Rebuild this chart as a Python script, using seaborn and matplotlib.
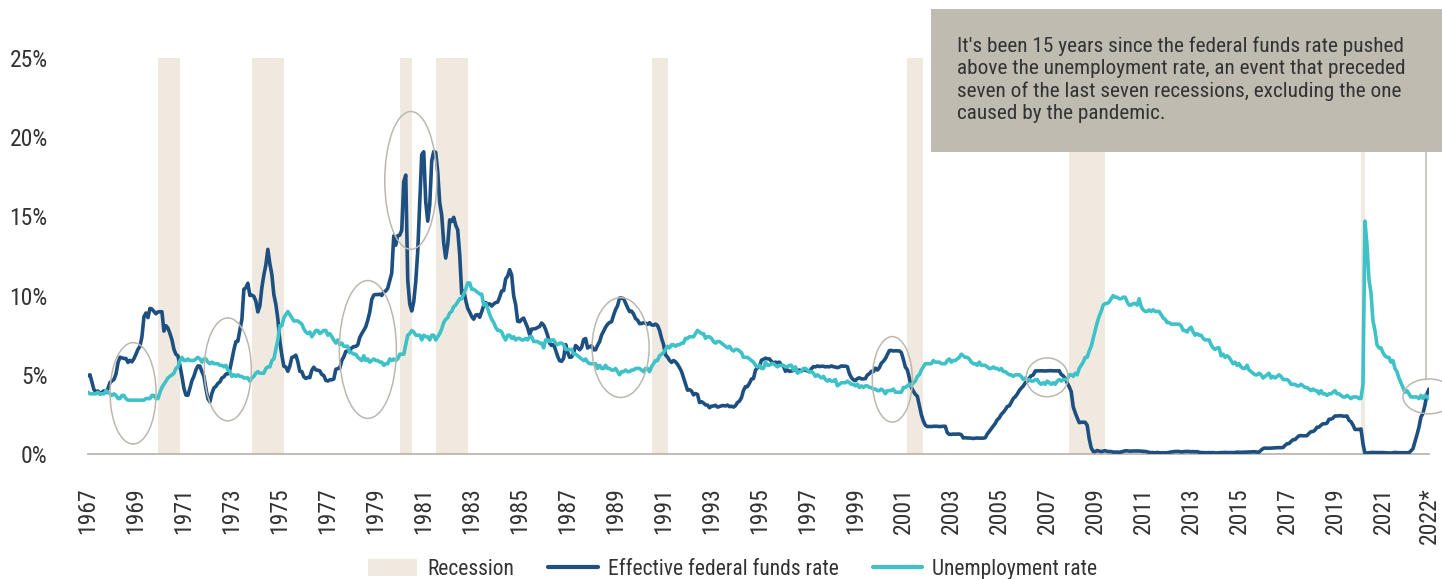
import numpy as np
import pandas as pd
import seaborn as sns
import matplotlib.pyplot as plt
from matplotlib import font_manager
from matplotlib.patches import Ellipse, Rectangle, Patch
from matplotlib.lines import Line2D

# monthly values, Jan 1967 - Dec 2022
fed_funds = [
    4.94, 5.00, 4.53, 4.05, 3.94, 3.98, 3.79, 3.90, 3.99, 3.88, 4.13, 4.51,  # 1967
    4.61, 4.71, 5.05, 5.76, 6.11, 6.07, 6.03, 6.03, 5.78, 5.91, 5.82, 6.02,  # 1968
    6.30, 6.61, 6.79, 7.41, 8.67, 8.90, 8.61, 9.19, 9.15, 9.00, 8.85, 8.97,  # 1969
    8.98, 8.98, 7.76, 8.10, 7.95, 7.61, 7.21, 6.61, 6.29, 6.20, 5.60, 4.90,  # 1970
    4.14, 3.72, 3.71, 4.15, 4.63, 4.91, 5.31, 5.56, 5.55, 5.20, 4.91, 4.14,  # 1971
    3.50, 3.29, 3.83, 4.17, 4.27, 4.46, 4.55, 4.80, 4.87, 5.04, 5.06, 5.33,  # 1972
    5.94, 6.58, 7.09, 7.12, 7.84, 8.49, 10.40, 10.50, 10.78, 10.01, 10.03, 9.95,  # 1973
    9.65, 8.97, 9.35, 10.51, 11.31, 11.93, 12.92, 12.01, 11.34, 10.06, 9.45, 8.53,  # 1974
    7.13, 6.24, 5.54, 5.49, 5.22, 5.55, 6.10, 6.14, 6.24, 5.82, 5.22, 5.20,  # 1975
    4.87, 4.77, 4.84, 4.82, 5.29, 5.48, 5.31, 5.29, 5.25, 5.02, 4.95, 4.65,  # 1976
    4.61, 4.68, 4.69, 4.73, 5.35, 5.39, 5.42, 5.90, 6.14, 6.47, 6.51, 6.56,  # 1977
    6.70, 6.78, 6.79, 6.89, 7.36, 7.60, 7.81, 8.04, 8.45, 8.96, 9.76, 10.03,  # 1978
    10.07, 10.06, 10.09, 10.01, 10.24, 10.29, 10.47, 10.94, 11.43, 13.77, 13.18, 13.78,  # 1979
    13.82, 14.13, 17.19, 17.61, 10.98, 9.47, 9.03, 9.61, 10.87, 12.81, 15.85, 18.90,  # 1980
    19.08, 15.93, 14.70, 15.72, 18.52, 19.10, 19.04, 17.82, 15.87, 15.08, 13.31, 12.37,  # 1981
    13.22, 14.78, 14.68, 14.94, 14.45, 14.15, 12.59, 10.12, 10.31, 9.71, 9.20, 8.95,  # 1982
    8.68, 8.51, 8.77, 8.80, 8.63, 8.98, 9.37, 9.56, 9.45, 9.48, 9.34, 9.47,  # 1983
    9.56, 9.59, 9.91, 10.29, 10.32, 11.06, 11.23, 11.64, 11.30, 9.99, 9.43, 8.38,  # 1984
    8.35, 8.50, 8.58, 8.27, 7.97, 7.53, 7.88, 7.90, 7.92, 7.99, 8.05, 8.27,  # 1985
    8.14, 7.86, 7.48, 6.99, 6.85, 6.92, 6.56, 6.17, 5.89, 5.85, 6.04, 6.91,  # 1986
    6.43, 6.10, 6.13, 6.37, 6.85, 6.73, 6.58, 6.73, 7.22, 7.29, 6.69, 6.77,  # 1987
    6.83, 6.58, 6.58, 6.87, 7.09, 7.51, 7.75, 8.01, 8.19, 8.30, 8.35, 8.76,  # 1988
    9.12, 9.36, 9.85, 9.84, 9.81, 9.53, 9.24, 8.99, 9.02, 8.84, 8.55, 8.45,  # 1989
    8.23, 8.24, 8.28, 8.26, 8.18, 8.29, 8.15, 8.13, 8.20, 8.11, 7.81, 7.31,  # 1990
    6.91, 6.25, 6.12, 5.91, 5.78, 5.90, 5.82, 5.66, 5.45, 5.21, 4.81, 4.43,  # 1991
    4.03, 4.06, 3.98, 3.73, 3.82, 3.76, 3.25, 3.30, 3.22, 3.10, 3.09, 2.92,  # 1992
    3.02, 3.03, 3.07, 2.96, 3.00, 3.04, 3.06, 3.03, 3.09, 2.99, 3.02, 2.96,  # 1993
    3.05, 3.25, 3.34, 3.56, 4.01, 4.25, 4.26, 4.47, 4.73, 4.76, 5.29, 5.45,  # 1994
    5.53, 5.92, 5.98, 6.05, 6.01, 6.00, 5.85, 5.74, 5.80, 5.76, 5.80, 5.60,  # 1995
    5.56, 5.22, 5.31, 5.22, 5.24, 5.27, 5.40, 5.22, 5.30, 5.24, 5.31, 5.29,  # 1996
    5.25, 5.19, 5.39, 5.51, 5.50, 5.56, 5.52, 5.54, 5.54, 5.50, 5.52, 5.50,  # 1997
    5.56, 5.51, 5.49, 5.45, 5.49, 5.56, 5.54, 5.55, 5.51, 5.07, 4.83, 4.68,  # 1998
    4.63, 4.76, 4.81, 4.74, 4.74, 4.76, 4.99, 5.07, 5.22, 5.20, 5.42, 5.30,  # 1999
    5.45, 5.73, 5.85, 6.02, 6.27, 6.53, 6.54, 6.50, 6.52, 6.51, 6.51, 6.40,  # 2000
    5.98, 5.49, 5.31, 4.80, 4.21, 3.97, 3.77, 3.65, 3.07, 2.49, 2.09, 1.82,  # 2001
    1.73, 1.74, 1.73, 1.75, 1.75, 1.75, 1.73, 1.74, 1.75, 1.75, 1.34, 1.24,  # 2002
    1.24, 1.26, 1.25, 1.26, 1.26, 1.22, 1.01, 1.03, 1.01, 1.01, 1.00, 0.98,  # 2003
    1.00, 1.01, 1.00, 1.00, 1.00, 1.03, 1.26, 1.43, 1.61, 1.76, 1.93, 2.16,  # 2004
    2.28, 2.50, 2.63, 2.79, 3.00, 3.04, 3.26, 3.50, 3.62, 3.78, 4.00, 4.16,  # 2005
    4.29, 4.49, 4.59, 4.79, 4.94, 4.99, 5.24, 5.25, 5.25, 5.25, 5.25, 5.24,  # 2006
    5.25, 5.26, 5.26, 5.25, 5.25, 5.25, 5.26, 5.02, 4.94, 4.76, 4.49, 4.24,  # 2007
    3.94, 2.98, 2.61, 2.28, 1.98, 2.00, 2.01, 2.00, 1.81, 0.97, 0.39, 0.16,  # 2008
    0.15, 0.22, 0.18, 0.15, 0.18, 0.21, 0.16, 0.16, 0.15, 0.12, 0.12, 0.12,  # 2009
    0.11, 0.13, 0.16, 0.20, 0.20, 0.18, 0.18, 0.19, 0.19, 0.19, 0.19, 0.18,  # 2010
    0.17, 0.16, 0.14, 0.10, 0.09, 0.09, 0.07, 0.10, 0.08, 0.07, 0.08, 0.07,  # 2011
    0.08, 0.10, 0.13, 0.14, 0.16, 0.16, 0.16, 0.13, 0.14, 0.16, 0.16, 0.16,  # 2012
    0.14, 0.15, 0.14, 0.15, 0.11, 0.09, 0.09, 0.08, 0.08, 0.09, 0.08, 0.09,  # 2013
    0.07, 0.07, 0.08, 0.09, 0.09, 0.10, 0.09, 0.09, 0.09, 0.09, 0.09, 0.12,  # 2014
    0.11, 0.11, 0.11, 0.12, 0.12, 0.13, 0.13, 0.14, 0.14, 0.12, 0.12, 0.24,  # 2015
    0.34, 0.38, 0.36, 0.37, 0.37, 0.38, 0.39, 0.40, 0.40, 0.40, 0.41, 0.54,  # 2016
    0.65, 0.66, 0.79, 0.90, 0.91, 1.04, 1.15, 1.16, 1.15, 1.15, 1.16, 1.30,  # 2017
    1.41, 1.42, 1.51, 1.69, 1.70, 1.82, 1.91, 1.91, 1.95, 2.19, 2.20, 2.27,  # 2018
    2.40, 2.40, 2.41, 2.42, 2.39, 2.38, 2.40, 2.13, 2.04, 1.83, 1.55, 1.55,  # 2019
    1.55, 1.58, 0.65, 0.05, 0.05, 0.08, 0.09, 0.10, 0.09, 0.09, 0.09, 0.09,  # 2020
    0.09, 0.08, 0.07, 0.07, 0.06, 0.08, 0.10, 0.09, 0.08, 0.08, 0.08, 0.08,  # 2021
    0.08, 0.08, 0.20, 0.33, 0.77, 1.21, 1.68, 2.33, 2.56, 3.08, 3.78, 4.10,  # 2022
]

unemployment = [
    3.9, 3.8, 3.8, 3.8, 3.8, 3.9, 3.8, 3.8, 3.8, 4.0, 3.9, 3.8,  # 1967
    3.7, 3.8, 3.7, 3.5, 3.5, 3.7, 3.7, 3.5, 3.4, 3.4, 3.4, 3.4,  # 1968
    3.4, 3.4, 3.4, 3.4, 3.4, 3.5, 3.5, 3.5, 3.7, 3.7, 3.5, 3.5,  # 1969
    3.9, 4.2, 4.4, 4.6, 4.8, 4.9, 5.0, 5.1, 5.4, 5.5, 5.9, 6.1,  # 1970
    5.9, 5.9, 6.0, 5.9, 5.9, 5.9, 6.0, 6.1, 6.0, 5.8, 6.0, 6.0,  # 1971
    5.8, 5.7, 5.8, 5.7, 5.7, 5.7, 5.6, 5.6, 5.5, 5.6, 5.3, 5.2,  # 1972
    4.9, 5.0, 4.9, 5.0, 4.9, 4.9, 4.8, 4.8, 4.8, 4.6, 4.8, 4.9,  # 1973
    5.1, 5.2, 5.1, 5.1, 5.1, 5.4, 5.5, 5.5, 5.9, 6.0, 6.6, 7.2,  # 1974
    8.1, 8.1, 8.6, 8.8, 9.0, 8.8, 8.6, 8.4, 8.4, 8.4, 8.3, 8.2,  # 1975
    7.9, 7.7, 7.6, 7.7, 7.4, 7.6, 7.8, 7.8, 7.6, 7.7, 7.8, 7.8,  # 1976
    7.5, 7.6, 7.4, 7.2, 7.0, 7.2, 6.9, 7.0, 6.8, 6.8, 6.8, 6.4,  # 1977
    6.4, 6.3, 6.3, 6.1, 6.0, 5.9, 6.2, 5.9, 6.0, 5.8, 5.9, 6.0,  # 1978
    5.9, 5.9, 5.8, 5.8, 5.6, 5.7, 5.7, 6.0, 5.9, 6.0, 5.9, 6.0,  # 1979
    6.3, 6.3, 6.3, 6.9, 7.5, 7.6, 7.8, 7.7, 7.5, 7.5, 7.5, 7.2,  # 1980
    7.5, 7.4, 7.4, 7.2, 7.5, 7.5, 7.2, 7.4, 7.6, 7.9, 8.3, 8.5,  # 1981
    8.6, 8.9, 9.0, 9.3, 9.4, 9.6, 9.8, 9.8, 10.1, 10.4, 10.8, 10.8,  # 1982
    10.4, 10.4, 10.3, 10.2, 10.1, 10.1, 9.4, 9.5, 9.2, 8.8, 8.5, 8.3,  # 1983
    8.0, 7.8, 7.8, 7.7, 7.4, 7.2, 7.5, 7.5, 7.3, 7.4, 7.2, 7.3,  # 1984
    7.3, 7.2, 7.2, 7.3, 7.2, 7.4, 7.4, 7.1, 7.1, 7.1, 7.0, 7.0,  # 1985
    6.7, 7.2, 7.2, 7.1, 7.2, 7.2, 7.0, 6.9, 7.0, 7.0, 6.9, 6.6,  # 1986
    6.6, 6.6, 6.6, 6.3, 6.3, 6.2, 6.1, 6.0, 5.9, 6.0, 5.8, 5.7,  # 1987
    5.7, 5.7, 5.7, 5.4, 5.6, 5.4, 5.4, 5.6, 5.4, 5.4, 5.3, 5.3,  # 1988
    5.4, 5.2, 5.0, 5.2, 5.2, 5.3, 5.2, 5.2, 5.3, 5.3, 5.4, 5.4,  # 1989
    5.4, 5.3, 5.2, 5.4, 5.4, 5.2, 5.5, 5.7, 5.9, 5.9, 6.2, 6.3,  # 1990
    6.4, 6.6, 6.8, 6.7, 6.9, 6.9, 6.8, 6.9, 6.9, 7.0, 7.0, 7.3,  # 1991
    7.3, 7.4, 7.4, 7.4, 7.6, 7.8, 7.7, 7.6, 7.6, 7.3, 7.4, 7.4,  # 1992
    7.3, 7.1, 7.0, 7.1, 7.1, 7.0, 6.9, 6.8, 6.7, 6.8, 6.6, 6.5,  # 1993
    6.6, 6.6, 6.5, 6.4, 6.1, 6.1, 6.1, 6.0, 5.9, 5.8, 5.6, 5.5,  # 1994
    5.6, 5.4, 5.4, 5.8, 5.6, 5.6, 5.7, 5.7, 5.6, 5.5, 5.6, 5.6,  # 1995
    5.6, 5.5, 5.5, 5.6, 5.6, 5.3, 5.5, 5.1, 5.2, 5.2, 5.4, 5.4,  # 1996
    5.3, 5.2, 5.2, 5.1, 4.9, 5.0, 4.9, 4.8, 4.9, 4.7, 4.6, 4.7,  # 1997
    4.6, 4.6, 4.7, 4.3, 4.4, 4.5, 4.5, 4.5, 4.6, 4.5, 4.4, 4.4,  # 1998
    4.3, 4.4, 4.2, 4.3, 4.2, 4.3, 4.3, 4.2, 4.2, 4.1, 4.1, 4.0,  # 1999
    4.0, 4.1, 4.0, 3.8, 4.0, 4.0, 4.0, 4.1, 3.9, 3.9, 3.9, 3.9,  # 2000
    4.2, 4.2, 4.3, 4.4, 4.3, 4.5, 4.6, 4.9, 5.0, 5.3, 5.5, 5.7,  # 2001
    5.7, 5.7, 5.7, 5.9, 5.8, 5.8, 5.8, 5.7, 5.7, 5.7, 5.9, 6.0,  # 2002
    5.8, 5.9, 5.9, 6.0, 6.1, 6.3, 6.2, 6.1, 6.1, 6.0, 5.8, 5.7,  # 2003
    5.7, 5.6, 5.8, 5.6, 5.6, 5.6, 5.5, 5.4, 5.4, 5.5, 5.4, 5.4,  # 2004
    5.3, 5.4, 5.2, 5.2, 5.1, 5.0, 5.0, 4.9, 5.0, 5.0, 5.0, 4.9,  # 2005
    4.7, 4.8, 4.7, 4.7, 4.6, 4.6, 4.7, 4.7, 4.5, 4.4, 4.5, 4.4,  # 2006
    4.6, 4.5, 4.4, 4.5, 4.4, 4.6, 4.7, 4.6, 4.7, 4.7, 4.7, 5.0,  # 2007
    5.0, 4.9, 5.1, 5.0, 5.4, 5.6, 5.8, 6.1, 6.1, 6.5, 6.8, 7.3,  # 2008
    7.8, 8.3, 8.7, 9.0, 9.4, 9.5, 9.5, 9.6, 9.8, 10.0, 9.9, 9.9,  # 2009
    9.8, 9.8, 9.9, 9.9, 9.6, 9.4, 9.4, 9.5, 9.5, 9.4, 9.8, 9.3,  # 2010
    9.1, 9.0, 9.0, 9.1, 9.0, 9.1, 9.0, 9.0, 9.0, 8.8, 8.6, 8.5,  # 2011
    8.3, 8.3, 8.2, 8.2, 8.2, 8.2, 8.2, 8.1, 7.8, 7.8, 7.7, 7.9,  # 2012
    8.0, 7.7, 7.5, 7.6, 7.5, 7.5, 7.3, 7.2, 7.2, 7.2, 6.9, 6.7,  # 2013
    6.6, 6.7, 6.7, 6.2, 6.3, 6.1, 6.2, 6.1, 5.9, 5.7, 5.8, 5.6,  # 2014
    5.7, 5.5, 5.4, 5.4, 5.6, 5.3, 5.2, 5.1, 5.0, 5.0, 5.1, 5.0,  # 2015
    4.8, 4.9, 5.0, 5.1, 4.8, 4.9, 4.8, 4.9, 5.0, 4.9, 4.7, 4.7,  # 2016
    4.7, 4.6, 4.4, 4.4, 4.4, 4.3, 4.3, 4.4, 4.3, 4.2, 4.2, 4.1,  # 2017
    4.0, 4.1, 4.0, 4.0, 3.8, 4.0, 3.8, 3.8, 3.7, 3.8, 3.8, 3.9,  # 2018
    4.0, 3.8, 3.8, 3.7, 3.6, 3.6, 3.7, 3.6, 3.5, 3.6, 3.6, 3.6,  # 2019
    3.5, 3.5, 4.4, 14.7, 13.2, 11.0, 10.2, 8.4, 7.8, 6.9, 6.7, 6.7,  # 2020
    6.4, 6.2, 6.1, 6.1, 5.8, 5.9, 5.4, 5.2, 4.8, 4.5, 4.2, 3.9,  # 2021
    4.0, 3.8, 3.6, 3.6, 3.6, 3.6, 3.5, 3.7, 3.5, 3.7, 3.6, 3.5,  # 2022
]

recession_start = ['1969-12', '1973-11', '1980-01', '1981-07', '1990-07', '2001-03', '2007-12', '2020-02']
recession_end = ['1970-11', '1975-03', '1980-07', '1982-11', '1991-03', '2001-11', '2009-06', '2020-04']

tick_years = list(range(1967, 2022, 2))
tick_labels = [str(y) for y in tick_years] + ['2022*']

note = ("It's been 15 years since the federal funds rate pushed\n"
        "above the unemployment rate, an event that preceded\n"
        "seven of the last seven recessions, excluding the one\n"
        "caused by the pandemic.")


def dec_year(d):
    d = pd.to_datetime(d)
    return d.year + (d.month - 1) / 12


months = pd.date_range('1967-01-01', periods=len(fed_funds), freq='MS')
t = months.year + (months.month - 1) / 12
df = pd.DataFrame({'t': t,
                   'Effective federal funds rate': fed_funds,
                   'Unemployment rate': unemployment})
long = df.melt(id_vars='t', var_name='series', value_name='rate')

NAVY = '#1d4f80'
TEAL = '#3fc1c8'
SAND = '#efe9df'
GREY = '#bdb8ae'

sns.set_style('white')

# pick a narrow face if one is installed
installed = {f.name for f in font_manager.fontManager.ttflist}
stretch = 'normal'
family = 'Liberation Sans'
for cand in ['Roboto Condensed', 'Liberation Sans Narrow', 'DejaVu Sans Condensed',
             'Open Sans Condensed', 'Noto Sans Condensed']:
    if cand in installed:
        family = cand
        break
else:
    if any(f.name == 'DejaVu Sans' and f.stretch == 'condensed' for f in font_manager.fontManager.ttflist):
        family, stretch = 'DejaVu Sans', 'condensed'
plt.rcParams['font.family'] = [family, 'DejaVu Sans']
plt.rcParams['font.stretch'] = stretch
plt.rcParams['text.color'] = '#333333'
narrow = family != 'Liberation Sans'
fs = 17 if narrow else 15
leg_fs = 15.5 if narrow else 14
note_fs = 15.3 if narrow else 13

fig = plt.figure(figsize=(14.42, 5.79), dpi=100)
ax = fig.add_axes([88 / 1442, 1 - 454 / 579, 1341 / 1442, 396 / 579])

for s, e in zip(recession_start, recession_end):
    ax.axvspan(dec_year(s), dec_year(e), color=SAND, lw=0, zorder=0)

sns.lineplot(data=long, x='t', y='rate', hue='series',
             palette={'Effective federal funds rate': NAVY, 'Unemployment rate': TEAL},
             linewidth=2.6, legend=False, ax=ax, zorder=3)

# crossover highlights
highlights = [(1968.88, 3.83, 1.92, 6.4), (1972.83, 5.34, 1.96, 6.5),
              (1978.67, 6.60, 2.38, 8.7), (1980.46, 17.27, 2.17, 8.7),
              (1989.21, 6.72, 2.38, 6.3), (2000.54, 4.71, 1.67, 5.4),
              (2007.0, 4.84, 1.75, 2.45), (2022.92, 3.64, 2.17, 2.2)]
for cx, cy, w, h in highlights:
    ax.add_patch(Ellipse((cx, cy), w, h, fill=False, ec=GREY, lw=1.1,
                         zorder=4, clip_on=False))

ax.set_xlim(1967, 2022.92)
ax.set_ylim(0, 25)
ax.set_xticks(tick_years + [2022.92])
ax.set_xticklabels(tick_labels, rotation=90, fontsize=fs, color='#333333')
ax.set_yticks(range(0, 26, 5))
ax.set_yticklabels([f'{v}%' for v in range(0, 26, 5)], fontsize=fs, color='#333333')
ax.tick_params(axis='x', length=0, pad=24)
ax.tick_params(axis='y', length=0, pad=29)
ax.set_xlabel('')
ax.set_ylabel('')
for side in ['left', 'top', 'right']:
    ax.spines[side].set_visible(False)
ax.spines['bottom'].set_color(GREY)
ax.spines['bottom'].set_linewidth(1.3)

# note box and leader line
fig.add_artist(Rectangle((931 / 1442, 1 - 152 / 579), 520 / 1442, 143 / 579,
                         transform=fig.transFigure, fc='#bfbbb1', ec='none', zorder=5))
fig.text(957 / 1442, 1 - 37 / 579, note, ha='left', va='top', fontsize=note_fs,
         color='#333333', linespacing=1.2, zorder=6)
fig.add_artist(Line2D([1426 / 1442, 1426 / 1442], [1 - 152 / 579, 1 - 380 / 579],
                      transform=fig.transFigure, color=GREY, lw=1.1))

handles = [Patch(fc=SAND, ec='none'),
           Line2D([], [], color=NAVY, lw=3),
           Line2D([], [], color=TEAL, lw=3)]
fig.legend(handles, ['Recession', 'Effective federal funds rate', 'Unemployment rate'],
           loc='lower center', bbox_to_anchor=(0.508, -0.035), ncol=3, frameon=False,
           fontsize=leg_fs, handlelength=2.3, handleheight=0.8, columnspacing=1.6,
           handletextpad=0.45)

fig.savefig('out.png', dpi=100)
